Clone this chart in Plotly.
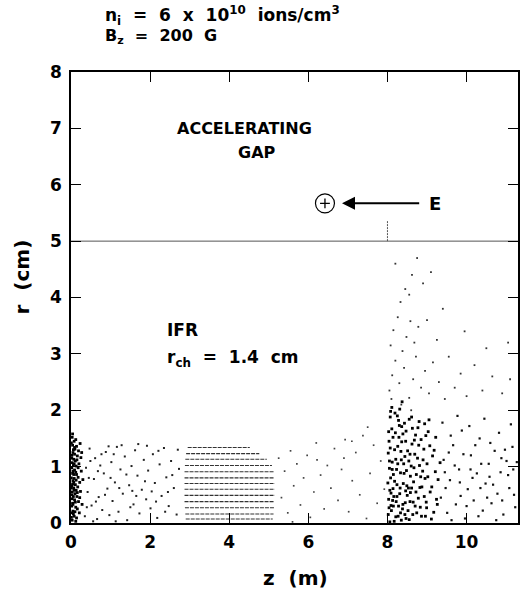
import plotly.graph_objects as go

# ---------------- data ----------------
# particles near the injection edge (z in m, r in cm)
edge_pts = [[0.03,0.05],[0.08,0.12],[0.05,0.21],[0.12,0.28],[0.04,0.35],[0.09,0.41],[0.15,0.47],[0.03,0.55],
            [0.07,0.62],[0.11,0.68],[0.05,0.75],[0.18,0.81],[0.04,0.88],[0.09,0.94],[0.13,1.01],[0.03,1.07],
            [0.07,1.13],[0.16,1.19],[0.05,1.25],[0.10,1.31],[0.04,1.38],[0.08,1.45],[0.03,1.52],[0.06,0.16],
            [0.14,0.09],[0.21,0.18],[0.02,0.30],[0.19,0.38],[0.06,0.47],[0.24,0.56],[0.13,0.58],[0.02,0.66],
            [0.22,0.72],[0.08,0.79],[0.14,0.86],[0.26,0.92],[0.02,0.98],[0.20,1.05],[0.11,1.10],[0.25,1.16],
            [0.09,1.22],[0.19,1.28],[0.14,1.36],[0.23,1.41],[0.12,1.48],[0.02,1.20],[0.06,1.02],[0.17,0.64],
            [0.28,0.33],[0.10,0.52],[0.03,0.43],[0.30,0.77],[0.16,0.25],[0.07,0.86],[0.27,1.25],[0.12,0.03],
            [0.22,0.45],[0.04,0.69],[0.18,0.98],[0.09,1.34],
            [0.01,0.10],[0.05,0.33],[0.02,0.50],[0.08,0.58],[0.01,0.80],[0.05,0.92],[0.02,1.15],[0.06,1.30],
            [0.01,1.42],[0.10,0.20],[0.07,0.72],[0.12,0.90],[0.15,1.12],[0.04,1.58],[0.11,0.37],[0.01,0.62],
            [0.13,0.76],[0.03,0.18],[0.08,1.05],[0.16,0.54]]

# sparse particles in the first IFR section
ifr_pts = [[0.35,0.12],[0.42,0.55],[0.38,0.98],[0.47,1.32],[0.52,0.31],[0.58,0.78],[0.61,1.15],[0.66,0.07],
           [0.70,0.46],[0.74,1.02],[0.79,0.23],[0.83,0.88],[0.88,1.26],[0.92,0.61],[0.97,0.14],[1.02,1.08],
           [1.05,0.39],[1.11,0.72],[1.16,1.35],[1.20,0.20],[1.25,0.95],[1.31,0.52],[1.36,1.18],[1.42,0.05],
           [1.47,0.67],[1.53,1.01],[1.58,0.33],[1.62,1.29],[1.68,0.84],[1.73,0.17],[1.79,0.59],[1.84,1.12],
           [1.90,0.42],[1.95,0.93],[2.01,0.26],[2.07,1.22],[2.12,0.71],[2.18,0.09],[2.24,1.04],[2.29,0.48],
           [2.35,1.33],[2.41,0.81],[2.47,0.30],[2.53,1.10],[2.60,0.62],[2.67,0.15],[2.73,0.96],[0.45,0.80],
           [0.56,0.03],[0.63,0.38],[0.77,1.22],[0.86,0.50],[1.00,0.80],[1.13,0.03],[1.28,1.38],[1.40,0.86],
           [1.55,0.57],[1.70,1.40],[1.87,0.74],[2.04,0.56],[2.21,1.28],[2.38,0.20],[2.56,0.85],[0.40,0.28],
           [0.49,1.10],[0.68,0.92],[0.95,1.36],[1.08,1.22],[1.22,0.62],[1.50,0.28],[1.65,0.48],[1.92,1.37],
           [2.15,0.38],[2.45,0.55],[2.70,1.30]]

# ordered (laminar) beam stripes between z ~ 2.9 and 5.2 m
stripe_r = [1.34, 1.23, 1.13, 1.02, 0.91, 0.80, 0.70, 0.60, 0.49, 0.38, 0.27, 0.16, 0.07]
stripe_z0 = [2.95, 2.91, 2.89, 2.88, 2.87, 2.87, 2.87, 2.87, 2.87, 2.87, 2.88, 2.89, 2.90]
stripe_z1 = [4.52, 4.76, 4.95, 5.08, 5.12, 5.14, 5.15, 5.15, 5.15, 5.14, 5.13, 5.12, 5.10]

# sparse particles after the stripes
mid_pts = [[5.25,1.15],[5.32,0.45],[5.40,0.92],[5.48,0.18],[5.55,1.28],[5.63,0.66],[5.71,1.05],[5.80,0.32],
           [5.88,0.80],[5.97,1.20],[6.05,0.10],[6.14,0.55],[6.22,1.12],[6.31,0.85],[6.40,0.25],[6.48,1.02],
           [6.57,0.62],[6.66,1.32],[6.75,0.40],[6.84,0.95],[6.93,1.48],[7.02,0.20],[7.11,0.75],[7.20,1.25],
           [7.30,0.50],[7.38,1.55],[7.47,0.08],[7.56,0.88],[7.65,1.38],[7.74,0.35],[7.83,1.10],[7.92,0.60],
           [6.20,1.42],[6.90,1.15],[5.60,0.02],[7.50,1.70],[7.10,1.45]]

# dense particles past the gap (z > 8 m)
core_pts = [[8.03,0.42],[8.21,1.13],[8.47,0.08],[8.11,1.67],[8.66,0.73],[8.38,0.25],[8.92,1.31],[8.05,0.97],
            [8.29,1.52],[8.74,0.18],[8.14,0.61],[8.55,1.84],[9.08,0.55],[8.33,0.89],[8.02,1.24],[8.81,1.02],
            [8.45,0.36],[9.21,0.91],[8.17,0.03],[8.62,1.40],[8.07,1.88],[8.99,0.27],[8.36,1.71],[8.24,0.68],
            [8.71,1.56],[8.50,0.49],[9.14,1.19],[8.09,0.31],[8.87,0.64],[8.41,1.05],[8.19,1.95],[8.58,0.83],
            [9.03,1.62],[8.27,0.12],[8.04,1.45],[8.78,0.44],[8.34,1.27],[8.95,0.79],[8.12,1.08],[8.64,0.15],
            [8.43,1.77],[9.26,0.33],[8.23,0.95],[8.06,0.58],[8.69,1.22],[8.52,0.22],[8.31,0.52],[8.85,1.48],
            [8.15,0.86],[9.11,0.07],[8.39,1.58],[8.01,0.71],[8.60,1.01],[8.26,1.36],[8.93,0.47],[8.48,0.93],
            [8.10,0.22],[8.76,1.15],[8.35,0.05],[9.18,1.29],[8.20,1.60],[8.57,0.38],[8.08,0.80],[8.83,0.28],
            [8.44,1.18],[8.30,1.73],[8.67,0.98],[9.05,1.83],[8.13,0.40],[8.53,0.62],[8.02,0.15],[8.16,0.47],
            [8.28,0.30],[8.40,0.70],[8.05,1.10],[8.18,1.30],[8.46,1.45],[8.25,1.90],[8.11,2.05],[8.37,2.15],
            [8.54,1.10],[8.72,0.55],[8.89,0.92],[8.97,1.55],[8.63,1.68],[8.80,1.80],[8.22,0.38],[8.49,0.66],
            [8.06,0.02],[8.33,0.18],
            [8.04,0.27],[8.09,0.53],[8.07,1.33],[8.14,1.52],[8.18,0.74],[8.21,0.11],[8.26,1.05],[8.28,1.82],
            [8.32,0.62],[8.36,1.44],[8.39,0.33],[8.42,0.88],[8.47,1.63],[8.51,1.28],[8.55,0.06],[8.58,0.54],
            [8.61,1.88],[8.65,0.37],[8.68,1.47],[8.73,0.86],[8.77,1.69],[8.82,0.63],[8.86,0.12],[8.90,1.12],
            [8.94,1.76],[8.98,0.37],[9.02,0.82],[9.07,1.37],[9.12,0.64],[9.17,0.19],[9.22,1.52],[9.28,0.77],
            [9.33,1.07],[8.03,1.62],[8.12,0.95],[8.24,0.47],[8.35,1.12],[8.46,0.57],[8.57,1.22],[8.70,0.30],
            [8.84,0.82],[9.00,1.05],[9.24,0.42],[8.08,1.98],[8.31,2.02],[8.15,0.30],[8.44,0.15],[8.61,0.62],
            [8.79,1.38],[8.96,0.12]]

tail_pts = [[9.35,0.45],[9.42,1.12],[9.51,0.18],[9.58,0.76],[9.66,1.38],[9.73,0.33],[9.81,0.95],[9.88,1.64],
            [9.96,0.08],[10.03,0.60],[10.11,1.20],[10.18,0.40],[10.26,0.88],[10.33,1.50],[10.41,0.22],
            [10.48,0.70],[10.56,1.05],[10.63,0.35],[10.71,1.28],[10.78,0.52],[10.86,0.90],[10.93,0.15],
            [11.01,1.10],[11.08,0.62],[11.16,1.35],[11.23,0.28],[9.39,1.78],[9.47,0.62],[9.55,1.25],
            [9.62,0.05],[9.70,1.02],[9.77,1.90],[9.85,0.48],[9.92,1.22],[10.00,0.30],[10.07,1.72],
            [10.15,0.80],[10.22,1.38],[10.30,0.12],[10.37,1.05],[10.45,1.85],[10.52,0.45],[10.60,1.42],
            [10.67,0.68],[10.75,0.05],[10.82,1.60],[10.90,0.40],[10.97,1.30],[11.05,0.85],[11.12,1.75],
            [11.20,0.50],[11.27,1.08],[9.45,0.90],[9.60,1.55],[9.83,0.72],[10.10,0.95],[10.35,0.62],
            [10.58,0.82],[10.88,1.15],[11.18,0.95]]

halo_pts = [[8.05,2.35],[8.12,2.62],[8.20,2.88],[8.08,3.15],[8.30,2.48],[8.42,2.75],[8.15,3.42],[8.55,2.22],
            [8.38,3.05],[8.26,3.65],[8.65,2.55],[8.48,3.30],[8.33,3.92],[8.72,2.95],[8.58,3.58],[8.45,4.15],
            [8.85,2.40],[8.68,3.20],[8.55,4.05],[8.95,2.70],[8.78,3.48],[8.62,4.40],[9.05,2.30],[9.15,2.85],
            [9.00,3.60],[9.30,2.50],[9.25,3.25],[8.90,4.25],[9.45,2.20],[9.55,2.95],[9.70,2.40],[9.40,3.80],
            [9.85,2.65],[10.00,2.25],[10.20,2.80],[10.40,2.35],[10.65,2.60],[10.90,2.30],[11.10,2.55],
            [9.95,3.40],[10.50,3.10],[8.20,4.60],[8.75,4.70],[9.10,4.45],[11.05,3.20],[8.10,2.20],
            [8.35,2.10],[8.60,2.00]]

gap_r = 5.0                 # boundary of the accelerating gap (cm)
gap_edge_z = 8.0            # gap edge marker
gap_edge_top = 5.37
ion_z, ion_r = 6.42, 5.67   # ion symbol
arrow_z0, arrow_z1 = 8.84, 6.85

z_range = [0, 11.3]
r_range = [0, 8]
z_ticks = [0, 2, 4, 6, 8, 10]
r_ticks = [0, 1, 2, 3, 4, 5, 6, 7, 8]

FONT = "DejaVu Sans, Liberation Sans, Arial, sans-serif"
NB = "&nbsp;"

fig = go.Figure()

def add_points(pts, size, color="black"):
    fig.add_trace(go.Scatter(
        x=[p[0] for p in pts], y=[p[1] for p in pts], mode="markers",
        marker=dict(symbol="square", size=size, color=color, line=dict(width=0)),
        hoverinfo="skip", showlegend=False))

add_points(edge_pts, 2.8)
add_points(ifr_pts, 2.0, "#222")
add_points(mid_pts, 1.7, "#444")
add_points(core_pts, 2.8)
add_points(tail_pts, 2.2, "#111")
add_points(halo_pts, 1.8, "#333")

# stripes
sx, sy = [], []
for r, a, b in zip(stripe_r, stripe_z0, stripe_z1):
    sx += [a, b, None]
    sy += [r, r, None]
fig.add_trace(go.Scatter(x=sx, y=sy, mode="lines",
                         line=dict(color="#333", width=1.1, dash="4px,1px"),
                         hoverinfo="skip", showlegend=False))

# gap boundary line
fig.add_trace(go.Scatter(x=z_range, y=[gap_r, gap_r], mode="lines",
                         line=dict(color="#555", width=1), hoverinfo="skip", showlegend=False))
fig.add_trace(go.Scatter(x=[gap_edge_z, gap_edge_z], y=[gap_r, gap_edge_top], mode="lines",
                         line=dict(color="#555", width=1, dash="2px,1px"),
                         hoverinfo="skip", showlegend=False))

# ion symbol
fig.add_trace(go.Scatter(x=[ion_z], y=[ion_r], mode="markers",
                         marker=dict(symbol="circle-open", size=19, color="black", line=dict(width=1.2)),
                         hoverinfo="skip", showlegend=False))
fig.add_trace(go.Scatter(x=[ion_z], y=[ion_r], mode="markers",
                         marker=dict(symbol="cross-thin-open", size=7, color="black", line=dict(width=1.3)),
                         hoverinfo="skip", showlegend=False))

def bold(size):
    return dict(size=size, family=FONT, color="black", weight="bold")

annotations = [
    dict(x=arrow_z1, y=ion_r, ax=arrow_z0, ay=ion_r, xref="x", yref="y", axref="x", ayref="y",
         text="", showarrow=True, arrowhead=2, arrowsize=1.3, arrowwidth=2, arrowcolor="black"),
    dict(x=9.0, y=ion_r, xref="x", yref="y", text="E", showarrow=False,
         font=bold(18), xanchor="left", yanchor="middle"),
    dict(x=4.38, y=6.99, xref="x", yref="y", text="ACCELERATING", showarrow=False,
         font=bold(16), xanchor="center", yanchor="middle"),
    dict(x=4.71, y=6.58, xref="x", yref="y", text="GAP", showarrow=False,
         font=bold(16), xanchor="center", yanchor="middle"),
    dict(x=2.37, y=3.42, xref="x", yref="y", text="IFR", showarrow=False,
         font=bold(17), xanchor="left", yanchor="middle"),
    dict(x=2.37, y=2.92, xref="x", yref="y",
         text="r<sub>ch</sub>" + NB * 2 + "=" + NB * 2 + "1.4" + NB * 2 + "cm", showarrow=False,
         font=bold(17), xanchor="left", yanchor="middle"),
    dict(x=0.071, y=1.126, xref="paper", yref="paper",
         text="n<sub>i</sub>" + NB * 2 + "=" + NB * 2 + "6" + NB * 2 + "x" + NB * 2 + "10<sup>10</sup>"
              + NB * 2 + "ions/cm<sup>3</sup>", showarrow=False,
         font=bold(17), xanchor="left", yanchor="middle"),
    dict(x=0.071, y=1.078, xref="paper", yref="paper",
         text="B<sub>z</sub>" + NB * 2 + "=" + NB * 2 + "200" + NB * 2 + "G", showarrow=False,
         font=bold(16), xanchor="left", yanchor="middle"),
    dict(x=-0.109, y=0.545, xref="paper", yref="paper", text="r" + NB * 2 + "(cm)", showarrow=False,
         textangle=-90, font=bold(20), xanchor="center", yanchor="middle"),
    dict(x=0.503, y=-0.122, xref="paper", yref="paper", text="z" + NB * 2 + "(m)", showarrow=False,
         font=bold(20), xanchor="center", yanchor="middle"),
]

axis_common = dict(showgrid=False, zeroline=False, showline=True, linecolor="black", linewidth=1.5,
                   mirror="ticks", ticks="inside", ticklen=10, tickwidth=1.3, tickcolor="black",
                   tickfont=bold(17))

fig.update_layout(
    width=522, height=592,
    margin=dict(l=71, r=2, t=72, b=69),
    paper_bgcolor="white", plot_bgcolor="white",
    annotations=annotations,
    xaxis=dict(range=z_range, tickvals=z_ticks, ticklabelstandoff=3, **axis_common),
    yaxis=dict(range=r_range, tickvals=r_ticks, ticklabelstandoff=4, **axis_common),
)

fig.write_html("out.html", config={"displayModeBar": False},
               post_script="document.body.style.margin='0';document.body.style.padding='0';")
